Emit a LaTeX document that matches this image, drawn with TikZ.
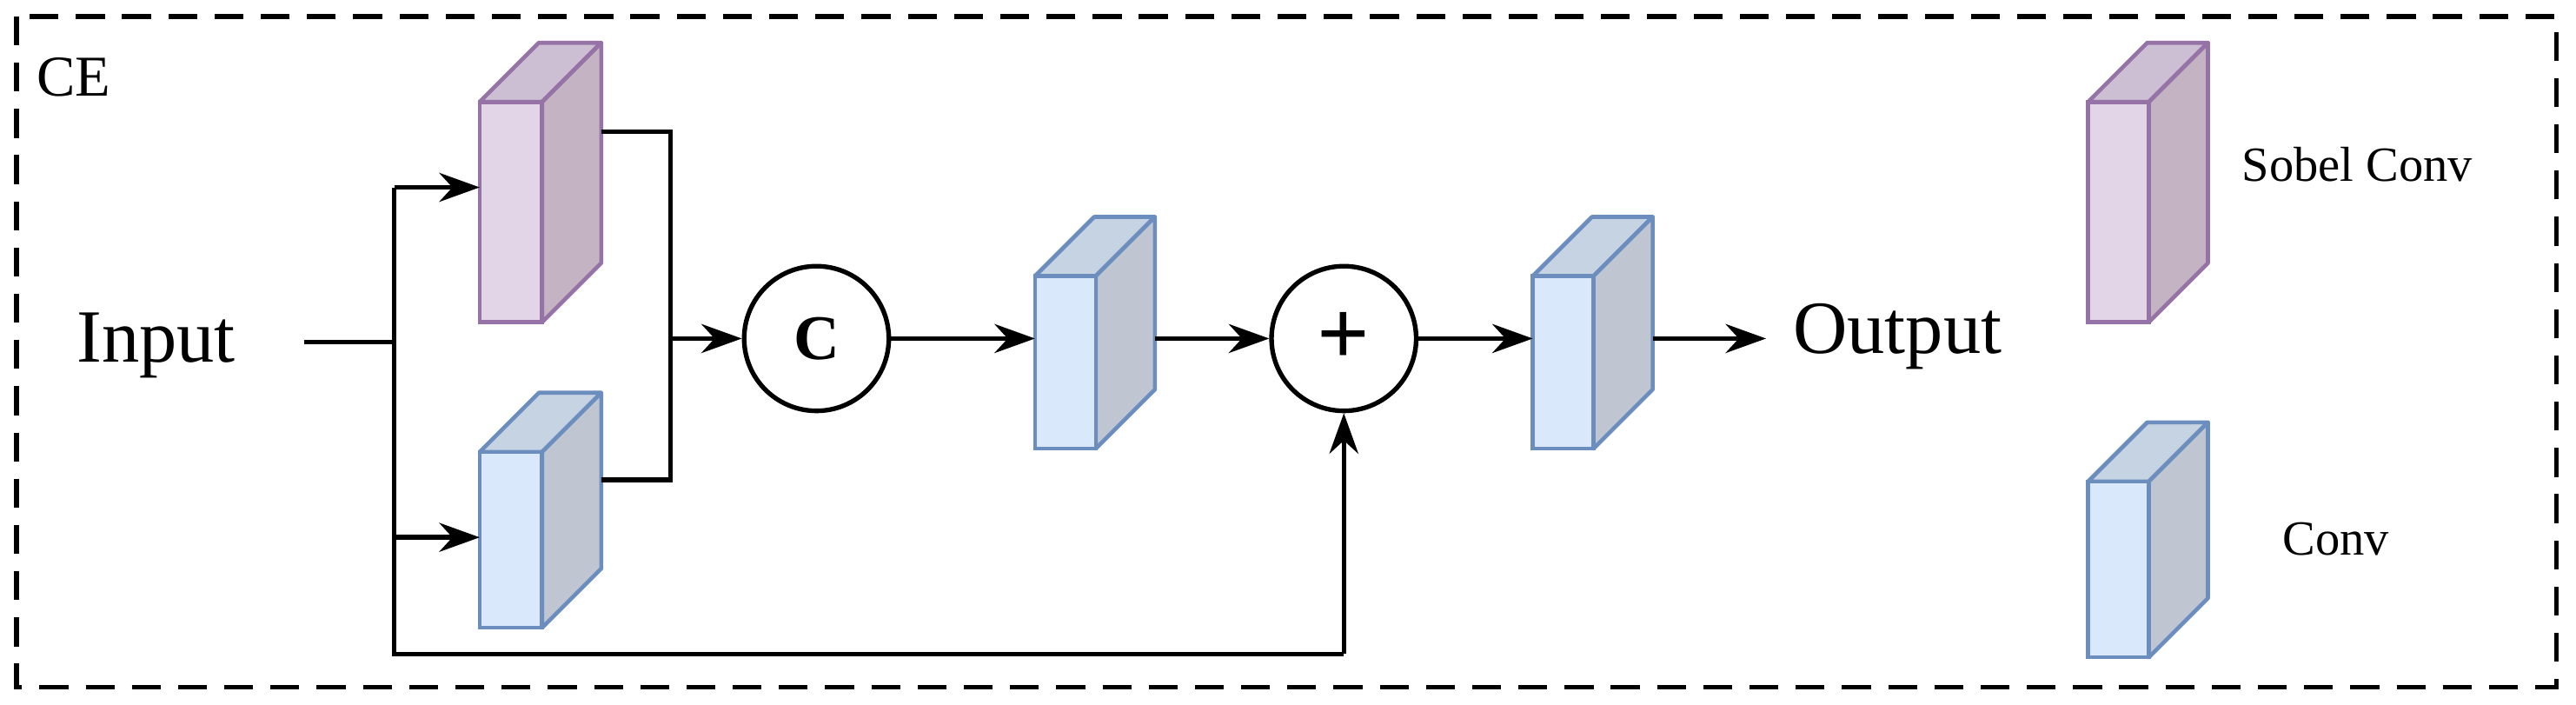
\documentclass[tikz,border=0pt]{standalone}
\usepackage{fontspec}
\setmainfont{Liberation Serif}
\usetikzlibrary{arrows.meta}
\definecolor{pF}{HTML}{E1D5E7}\definecolor{pT}{HTML}{CDBFD3}\definecolor{pS}{HTML}{C3B3C3}\definecolor{pL}{HTML}{9673A6}
\definecolor{bF}{HTML}{DAE8FC}\definecolor{bT}{HTML}{C5D3E3}\definecolor{bS}{HTML}{BFC6D1}\definecolor{bL}{HTML}{6C8EBF}
\newcommand\mycub[7]{% x y w h d prefix name
 \fill[#6T,draw=#6L,line width=0.7pt,line join=round] (#1,#2) -- ++(#5,-#5) -- ++(#3,0) -- ++(-#5,#5) -- cycle;
 \fill[#6S,draw=#6L,line width=0.7pt,line join=round] (#1+#3,#2) -- ++(#5,-#5) -- ++(0,#4) -- ++(-#5,#5) -- cycle;
 \draw[#6L,fill=#6F,line width=0.7pt] (#1,#2) rectangle ++(#3,#4);
 \coordinate (#7) at (#1,#2);}
\begin{document}
\begin{tikzpicture}[x=0.01cm,y=-0.01cm,line width=0.8pt,
 arr/.style={-{Stealth[length=7pt,width=5pt]}},
 circ/.style={circle,draw,line width=0.8pt,minimum size=0.88cm,inner sep=0pt}]
\useasboundingbox (0,0) rectangle (1568,429);
\draw[dashed,line width=0.8pt,dash pattern=on 5pt off 3pt] (10,10) rectangle (1556,418);
\node[font=\fontsize{10}{12}\selectfont] (ce) at (45,47) {CE};
\node[font=\fontsize{13}{15}\selectfont] (in) at (95,210) {Input};
\node[font=\fontsize{13}{15}\selectfont] (out) at (1155,205) {Output};
\node[font=\fontsize{8.5}{10}\selectfont] (l1) at (1435,100) {Sobel Conv};
\node[font=\fontsize{8.5}{10}\selectfont] (l2) at (1422,328) {Conv};
\mycub{292}{62}{38}{134}{36}{p}{c1}
\mycub{292}{275}{38}{107}{36}{b}{c2}
\mycub{630}{168}{37}{105}{36}{b}{c3}
\mycub{933}{168}{37}{105}{36}{b}{c4}
\mycub{1271}{62}{37}{134}{36}{p}{c5}
\mycub{1271}{293}{37}{107}{36}{b}{c6}
\node[circ,font=\bfseries\fontsize{11}{12}\selectfont] (cc) at (497,206) {C};
\node[circ,font=\bfseries\fontsize{16}{16}\selectfont] (pl) at (818,206) {+};
\coordinate (s) at (240,208);
\draw (185,208) -- (s);
\draw (240,114) -- (240,398) -- (818,398);
\draw[arr] (818,398) -- (pl.south);
\draw[arr] (240,114) -- (292,114);
\draw[arr] (240,327) -- (292,327);
\draw (366,80) -- (408,80) -- (408,292) -- (366,292);
\draw[arr] (408,206) -- (cc.west);
\draw[arr] (cc.east) -- (630,206);
\draw[arr] (703,206) -- (pl.west);
\draw[arr] (pl.east) -- (933,206);
\draw[arr] (1006,206) -- (1075,206);
\end{tikzpicture}
\end{document}
